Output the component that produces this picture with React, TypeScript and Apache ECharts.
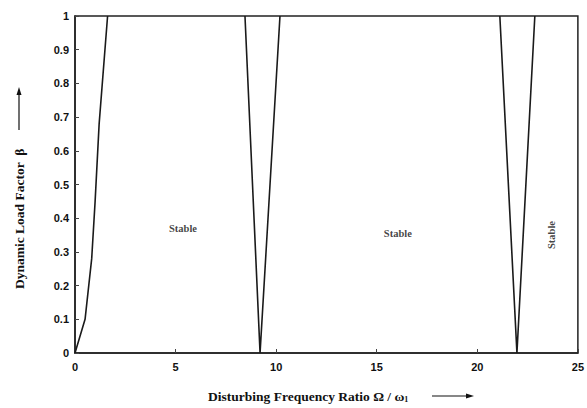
import React, { useEffect, useRef } from "react";
import * as echarts from "echarts";

const xTicks = [0, 5, 10, 15, 20, 25];
const yTicks = [0, 0.1, 0.2, 0.3, 0.4, 0.5, 0.6, 0.7, 0.8, 0.9, 1];

const boundary1: [number, number][] = [
  [0, 0], [0.5, 0.1], [0.83, 0.28], [1.0, 0.45], [1.2, 0.68], [1.62, 1],
];
const boundary2: [number, number][] = [[8.45, 1], [9.2, 0], [10.19, 1]];
const boundary3: [number, number][] = [[21.12, 1], [21.97, 0], [22.86, 1]];

const stableLabels: [number, number, number][] = [
  [5.37, 0.37, 0],
  [16.05, 0.356, 0],
  [23.7, 0.35, 90],
];

const SERIF = "'Liberation Serif', 'Times New Roman', serif";
const SANS = "'Liberation Sans', Arial, sans-serif";

export default function App() {
  const ref = useRef<HTMLDivElement>(null);
  useEffect(() => {
    if (!ref.current) return;
    const chart = echarts.init(ref.current, null, { renderer: "svg" });
    const lineStyle = { color: "#1a1a1a", width: 1.6 };
    const mkLine = (d: [number, number][]) => ({
      type: "line",
      data: d,
      showSymbol: false,
      symbol: "none",
      lineStyle,
      silent: true,
    });
    chart.setOption({
      animation: false,
      backgroundColor: "#fff",
      grid: {
        left: 75,
        right: 9,
        top: 16,
        bottom: 55,
        show: true,
        borderColor: "#222",
        borderWidth: 1.5,
      },
      xAxis: {
        type: "value",
        min: xTicks[0],
        max: xTicks[xTicks.length - 1],
        interval: 5,
        axisLine: { show: true, lineStyle: { color: "#222", width: 1.5 } },
        axisTick: { show: true, inside: true, length: 4, lineStyle: { color: "#444" } },
        splitLine: { show: false },
        axisLabel: {
          color: "#111",
          fontFamily: SANS,
          fontWeight: "bold",
          fontSize: 11,
          margin: 8,
        },
      },
      yAxis: {
        type: "value",
        min: yTicks[0],
        max: yTicks[yTicks.length - 1],
        interval: 0.1,
        axisLine: { show: true, lineStyle: { color: "#222", width: 1.5 } },
        axisTick: { show: true, inside: true, length: 4, lineStyle: { color: "#444" } },
        splitLine: { show: false },
        axisLabel: {
          color: "#111",
          fontFamily: SANS,
          fontWeight: "bold",
          fontSize: 11,
          margin: 6,
          formatter: (v: number) => String(Math.round(v * 10) / 10),
        },
      },
      series: [
        mkLine(boundary1),
        mkLine(boundary2),
        mkLine(boundary3),
        {
          type: "scatter",
          symbolSize: 0,
          silent: true,
          data: stableLabels.map((s) => ({
            value: [s[0], s[1]],
            label: {
              show: true,
              position: "inside",
              formatter: "Stable",
              rotate: s[2],
              color: "#111",
              fontFamily: SERIF,
              fontWeight: "bold",
              fontSize: 10.5,
            },
          })),
        },
      ],
      graphic: [
        {
          type: "text",
          x: 19,
          y: 289,
          rotation: Math.PI / 2,
          style: {
            text: "Dynamic Load Factor  β",
            fill: "#111",
            font: `bold 13.5px ${SERIF}`,
            textVerticalAlign: "middle",
          },
        },
        { type: "line", shape: { x1: 19, y1: 130, x2: 19, y2: 94 }, style: { stroke: "#111", lineWidth: 1.2 } },
        { type: "polygon", shape: { points: [[19, 87], [16.5, 95], [21.5, 95]] }, style: { fill: "#111" } },
        {
          type: "text",
          x: 208,
          y: 396,
          style: {
            text: "{a|Disturbing Frequency Ratio Ω / ω}{s|1}",
            fill: "#111",
            textVerticalAlign: "middle",
            rich: {
              a: { font: `bold 13.5px ${SERIF}`, fill: "#111" },
              s: { font: `bold 8px ${SERIF}`, fill: "#111", padding: [6, 0, 0, 0] },
            },
          },
        },
        { type: "line", shape: { x1: 432, y1: 396, x2: 467, y2: 396 }, style: { stroke: "#111", lineWidth: 1.2 } },
        { type: "polygon", shape: { points: [[474, 396], [466, 393.5], [466, 398.5]] }, style: { fill: "#111" } },
      ],
    });
    return () => chart.dispose();
  }, []);
  return (
    <div
      ref={ref}
      style={{ position: "fixed", left: 0, top: 0, width: 587, height: 408 }}
    />
  );
}
